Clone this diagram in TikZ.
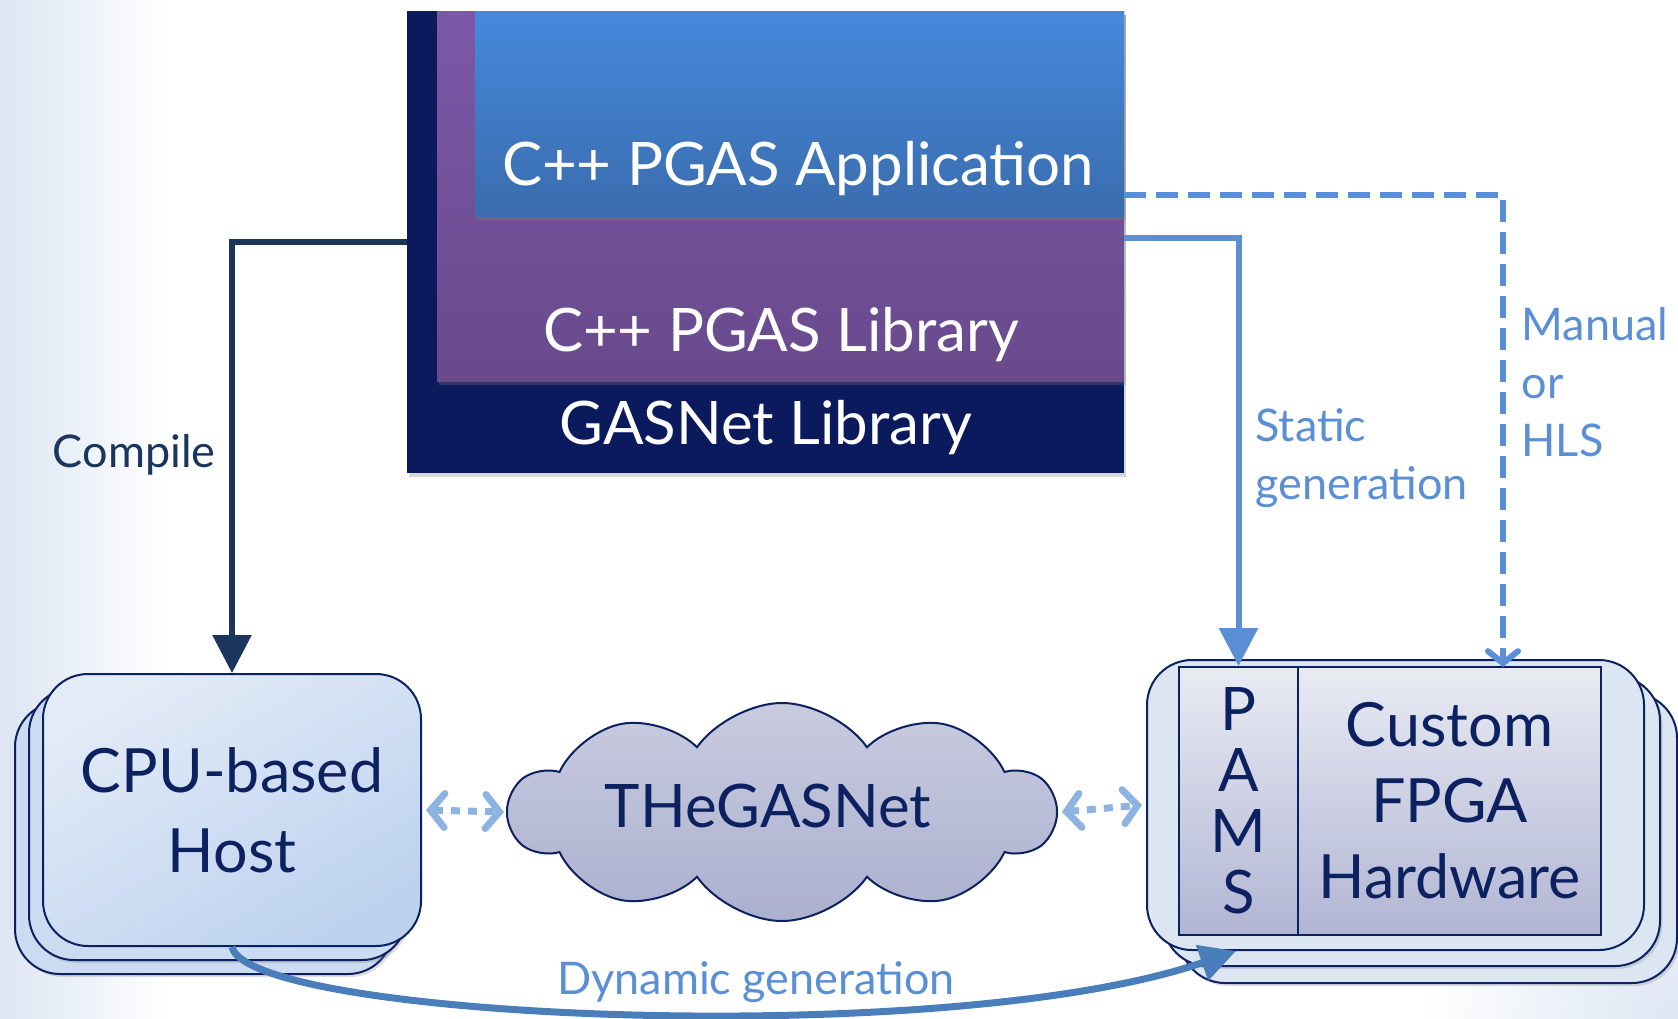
\documentclass[tikz,border=0pt]{standalone}
\usepackage{fontspec}
\setmainfont{Lato}
\usetikzlibrary{arrows.meta, positioning, shapes.symbols, shadows}

\definecolor{navy}{HTML}{0B2160}
\definecolor{gasnavy}{HTML}{0A1A5C}
\definecolor{libtop}{HTML}{7C58A8}
\definecolor{libbot}{HTML}{684A8C}
\definecolor{apptop}{HTML}{4689DB}
\definecolor{appbot}{HTML}{3A6CAE}
\definecolor{hostlight}{HTML}{E3EBF7}
\definecolor{hostdark}{HTML}{BDD2EF}
\definecolor{fpgaout}{HTML}{DCE6F2}
\definecolor{fpgatop}{HTML}{E9EBF3}
\definecolor{fpgabot}{HTML}{B1B5D3}
\definecolor{cloudtop}{HTML}{C9CBDF}
\definecolor{cloudbot}{HTML}{ABB0CF}
\definecolor{compilecol}{HTML}{1B365D}
\definecolor{staticcol}{HTML}{5A8FD6}
\definecolor{linkcol}{HTML}{8DB3E2}
\definecolor{dyncol}{HTML}{4A7EBB}
\definecolor{bgblue}{HTML}{DDE6F3}

\begin{document}
\begin{tikzpicture}[x=1pt, y=-1pt,
    bigtxt/.style={font=\fontsize{60}{66}\selectfont},
    lbltxt/.style={font=\fontsize{45}{58}\selectfont, align=left},
    layer/.style={draw=none, inner sep=0pt,
      drop shadow={opacity=0.3, shadow xshift=2pt, shadow yshift=-4pt}},
    hostbox/.style={draw=navy, line width=2pt, rounded corners=45pt,
      minimum width=378, minimum height=272},
    fpgabox/.style={draw=navy, line width=2pt, rounded corners=45pt, fill=fpgaout,
      minimum width=497, minimum height=290},
    innerbox/.style={draw=navy, line width=2pt, top color=fpgatop, bottom color=fpgabot,
      minimum height=268, inner sep=0pt, text=navy},
    linkarrow/.style={linkcol, line width=7pt, dash pattern=on 9pt off 8pt,
      {Straight Barb[length=14pt, width=34pt, line cap=round]}-{Straight Barb[length=14pt, width=34pt, line cap=round]}}]

  % slide background
  \useasboundingbox (0,0) rectangle (1678,1018);
  \begin{scope}
    \clip (0,0) rectangle (1678,1018);
    \fill[white] (0,0) rectangle (1678,1018);
    \shade[left color=bgblue, right color=white] (0,0) rectangle (170,1018);
    \shade[inner color=bgblue, outer color=white] (1678,1018) circle (260);
  \end{scope}

  % software stack
  \node[layer, fill=gasnavy, minimum width=717, minimum height=462] (gasnet) at (765.5,242) {};
  \node[layer, top color=libtop, bottom color=libbot, minimum width=687, minimum height=370] (lib) at (780.5,196) {};
  \node[layer, top color=apptop, bottom color=appbot, minimum width=649, minimum height=205] (app) at (799.5,113.5) {};
  \node[bigtxt, white] (apptxt) at (798,169) {C++ PGAS Application};
  \node[bigtxt, white] (libtxt) at (781,335) {C++ PGAS Library};
  \node[bigtxt, white] (gastxt) at (766,428) {GASNet Library};

  % host stack
  \foreach \d in {28,14}
    \draw[hostbox, fill=hostdark!80!white, drop shadow={opacity=0.25, shadow yshift=-3pt}] (43-\d,674+\d) rectangle ++(378,272);
  \node[hostbox, top color=hostlight, bottom color=hostdark, shading angle=30,
        bigtxt, text=navy, align=center, font=\fontsize{61}{80}\selectfont] (host) at (232,810) {CPU-based\\Host};

  % fpga stack
  \foreach \d in {33,16}
    \draw[fpgabox, drop shadow={opacity=0.25, shadow yshift=-3pt}] (1147+\d,660+\d) rectangle ++(497,290);
  \node[fpgabox] (fpga) at (1395.5,805) {};
  \node[innerbox, minimum width=119, font=\fontsize{60}{61}\selectfont, align=center] (pams) at (1238.5,801) {P\\A\\M\\S};
  \node[innerbox, minimum width=303, font=\fontsize{61}{76}\selectfont, align=center] (custom) at (1449.5,801) {Custom\\FPGA\\Hardware};
  \coordinate (hlsin) at (1503,667);

  % network
  \node[cloud, cloud puffs=10, cloud puff arc=110, cloud ignores aspect, draw=navy, line width=2pt,
        top color=cloudtop, bottom color=cloudbot, minimum width=545, minimum height=218,
        inner sep=0pt] (net) at (782,812) {};
  \node[bigtxt, text=navy] (nettxt) at (768,806) {THeGASNet};

  % connectors
  \draw[compilecol, line width=6pt, -{Triangle[length=38pt, width=38pt]}] (gasnet.west) -| (host.north);
  \draw[staticcol, line width=6pt, -{Triangle[length=38pt, width=38pt]}] ([yshift=-42]lib.east) -| (pams.north);
  \draw[staticcol, line width=6pt, dash pattern=on 22pt off 10pt,
        -{Straight Barb[length=12pt, width=30pt, line cap=round]}] ([yshift=21]app.south east) -| (hlsin);
  \draw[linkarrow] ([xshift=4pt]host.east) -- ([xshift=-2pt]net.west);
  \draw[linkarrow] ([xshift=4pt]net.east) -- ([xshift=-4pt]fpga.west);
  \draw[dyncol, line width=7pt, -{Triangle[length=36pt, width=36pt]}]
        (host.south) .. controls (250,1020) and (950,1050) .. ([xshift=90]fpga.south west);

  % labels
  \node[lbltxt, text=compilecol, anchor=east] (compilelbl) at (219,455) {Compile};
  \node[lbltxt, text=staticcol, anchor=west] (staticlbl) at (1252,458) {Static\\generation};
  \node[lbltxt, text=staticcol, anchor=west] (hlslbl) at (1518,382) {Manual\\or\\HLS};
  \node[lbltxt, text=staticcol] (dynlbl) at (756,982) {Dynamic generation};
\end{tikzpicture}
\end{document}
